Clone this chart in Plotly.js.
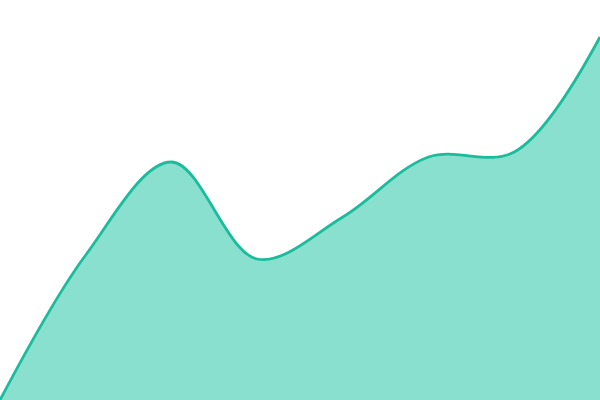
<!DOCTYPE html>
<html>
<head>
<meta charset="utf-8">
<script src="https://cdn.plot.ly/plotly-3.0.1.min.js"></script>
<style>
  html, body { margin: 0; padding: 0; background: #fff; }
  #graph { width: 600px; height: 400px; }
</style>
</head>
<body>
<div id="graph"></div>
<script>
// values (8 evenly spaced points)
var xs = [0, 1, 2, 3, 4, 5, 6, 7];
var values = [0, 145, 238, 141, 183, 243, 248, 363];

var trace = {
    x: xs,
    y: values,
    type: 'scatter',
    mode: 'lines',
    fill: 'tozeroy',
    fillcolor: '#8ae0cf',
    line: {color: '#1abc9c', width: 2.8, shape: 'spline', smoothing: 1},
    hoverinfo: 'skip'
};

var layout = {
    width: 600,
    height: 400,
    margin: {l: 0, r: 0, t: 0, b: 0},
    paper_bgcolor: '#fff',
    plot_bgcolor: '#fff',
    showlegend: false,
    xaxis: {range: [0, 7], visible: false, fixedrange: true},
    yaxis: {range: [0, 400], visible: false, fixedrange: true}
};

Plotly.newPlot('graph', [trace], layout, {staticPlot: true, displayModeBar: false});
</script>
</body>
</html>
